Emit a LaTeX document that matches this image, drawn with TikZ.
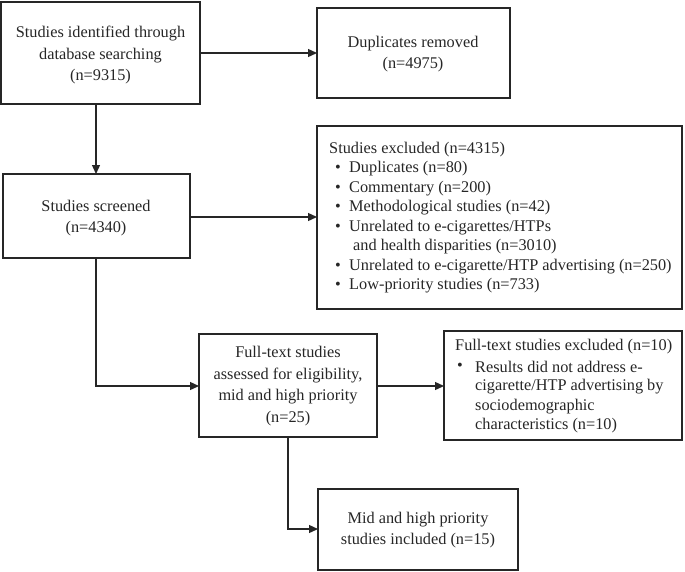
\documentclass[tikz,border=0pt]{standalone}
\usepackage{fontspec}
\setmainfont{Liberation Serif}
\usetikzlibrary{arrows.meta}
\begin{document}
\begin{tikzpicture}[x=1pt,y=-1pt,
  box/.style={draw,line width=1.3pt,color=black!85},
  txt/.style={font=\fontsize{16.3}{21.5}\selectfont,align=center,text=black!85},
  ltxt/.style={font=\fontsize{16.3}{19.6}\selectfont,anchor=west,inner sep=0,text=black!85},
  arr/.style={line width=1.3pt,color=black!85,-{Triangle[length=9pt,width=8pt]}}]
\useasboundingbox (0,0) rectangle (685,571);
\draw[box] (1,2) rectangle (200,104);
\node[txt] (b1) at (100.5,55) {Studies identified through\\database searching\\(n=9315)};
\draw[box] (317,8) rectangle (510,98);
\node[txt] (b2) at (413,54) {Duplicates removed\\(n=4975)};
\draw[box] (3,174) rectangle (190,258);
\node[txt] (b3) at (96,218) {Studies screened\\(n=4340)};
\draw[box] (317,126) rectangle (682,309);
\node[ltxt] (b4) at (329,150) {Studies excluded (n=4315)};
\node[ltxt] at (335,169) {\textbullet};
\node[ltxt] at (349,169) {Duplicates (n=80)};
\node[ltxt] at (335,189) {\textbullet};
\node[ltxt] at (349,189) {Commentary (n=200)};
\node[ltxt] at (335,208) {\textbullet};
\node[ltxt] at (349,208) {Methodological studies (n=42)};
\node[ltxt] at (335,228) {\textbullet};
\node[ltxt] at (349,228) {Unrelated to e-cigarettes/HTPs};
\node[ltxt] at (353,247) {and health disparities (n=3010)};
\node[ltxt] at (335,267) {\textbullet};
\node[ltxt] at (349,267) {Unrelated to e-cigarette/HTP advertising (n=250)};
\node[ltxt] at (335,286) {\textbullet};
\node[ltxt] at (349,286) {Low-priority studies (n=733)};
\draw[box] (199,334) rectangle (377,437);
\node[txt] (b5) at (288,386) {Full-text studies\\assessed for eligibility,\\mid and high priority\\(n=25)};
\draw[box] (444,331) rectangle (682,440);
\node[ltxt] (b6) at (455,347) {Full-text studies excluded (n=10)};
\node[ltxt] at (457,367) {\textbullet};
\node[ltxt] at (475,367) {Results did not address e-};
\node[ltxt] at (475,387) {cigarette/HTP advertising by};
\node[ltxt] at (475,407) {sociodemographic};
\node[ltxt] at (475,426) {characteristics (n=10)};
\draw[box] (318,489) rectangle (518,570);
\node[txt] (b7) at (418,530) {Mid and high priority\\studies included (n=15)};
\coordinate (c1) at (96,386);
\coordinate (c2) at (288,529);
\draw[arr] (200,53) -- (317,53);
\draw[arr] (96,104) -- (96,174);
\draw[arr] (190,217) -- (317,217);
\draw[arr] (96,258) -- (c1) -- (199,386);
\draw[arr] (377,386) -- (444,386);
\draw[arr] (288,437) -- (c2) -- (318,529);
\end{tikzpicture}
\end{document}
